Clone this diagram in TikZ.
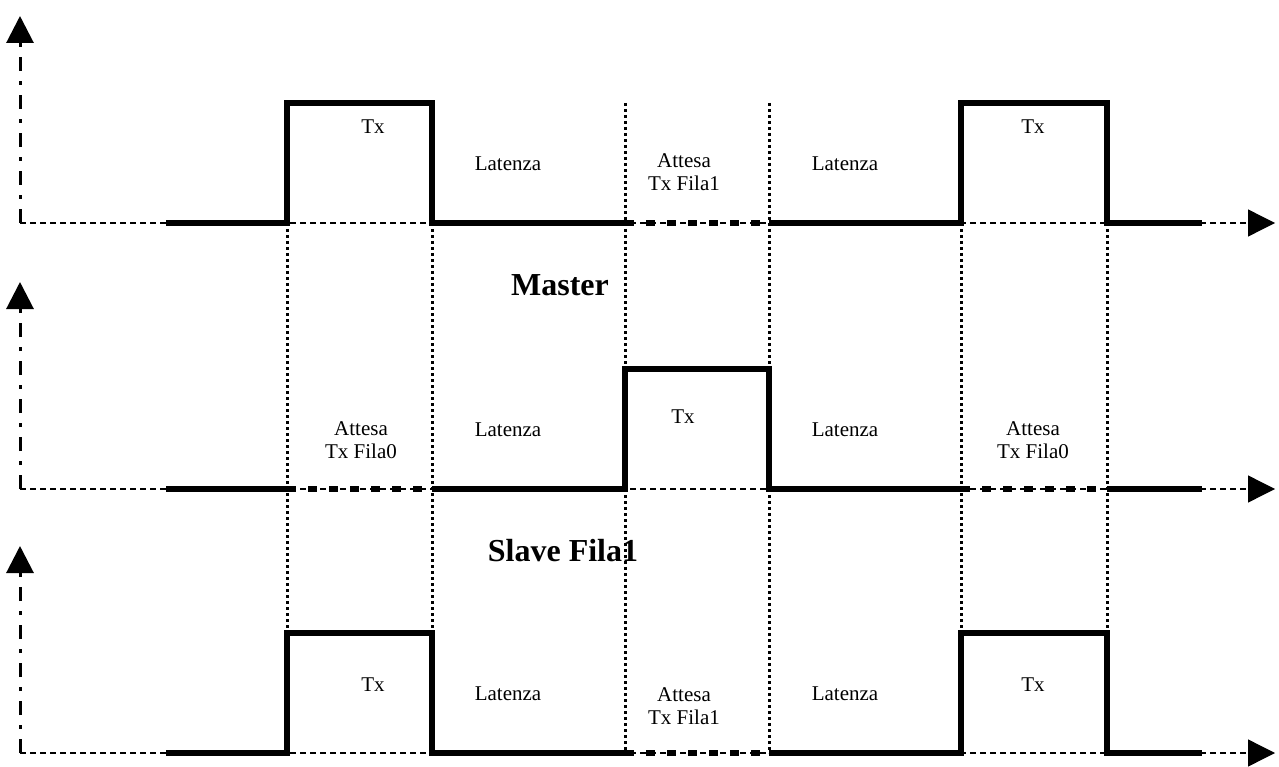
\documentclass[tikz,border=0pt]{standalone}
\usepackage{fontspec}
\setmainfont{Liberation Serif}
\usetikzlibrary{arrows.meta}
\begin{document}
\begin{tikzpicture}[x=1pt,y=-1pt,
  sig/.style={line width=6pt, line join=miter},
  waitseg/.style={line width=6pt, dash pattern=on 9pt off 12pt},
  guide/.style={line width=3pt, dash pattern=on 3pt off 3pt},
  haxis/.style={line width=1.3pt, dash pattern=on 6pt off 4pt, -{Triangle[length=27pt,width=27pt]}},
  vaxis/.style={line width=3pt, dash pattern=on 14pt off 10pt on 4pt off 10pt, -{Triangle[length=27pt,width=27pt,sep=9pt]}},
  lbl/.style={font=\fontsize{21}{23}\selectfont, align=center, inner sep=0pt},
  ttl/.style={font=\bfseries\fontsize{32}{36}\selectfont, inner sep=0pt}]
\useasboundingbox (0,0) rectangle (1279,767);

% axes
\foreach \b/\n in {223/a, 489/b, 753/c}{
  \coordinate (o\n) at (20,\b);
  \coordinate (x\n) at (1275,\b);
  \coordinate (y\n) at (20,\b-216);
  \draw[haxis] (o\n) -- (x\n);
  \draw[vaxis] (o\n) -- (y\n);
}

% vertical guides
\foreach \x in {287,432,961,1107}{
  \draw[guide] (\x,223) -- (\x,633);
}
\foreach \x in {625,769}{
  \draw[guide] (\x,103) -- (\x,369);
  \draw[guide] (\x,489) -- (\x,753);
}

% Master
\draw[sig] (166,223) -- (287,223) -- (287,103) -- (432,103) -- (432,223) -- (625,223);
\draw[waitseg] (625,223) -- (769,223);
\draw[sig] (769,223) -- (961,223) -- (961,103) -- (1107,103) -- (1107,223) -- (1202,223);

% Slave Fila1
\draw[sig] (166,489) -- (287,489);
\draw[waitseg] (287,489) -- (432,489);
\draw[sig] (432,489) -- (625,489) -- (625,369) -- (769,369) -- (769,489) -- (961,489);
\draw[waitseg] (961,489) -- (1107,489);
\draw[sig] (1107,489) -- (1202,489);

% bottom
\draw[sig] (166,753) -- (287,753) -- (287,633) -- (432,633) -- (432,753) -- (625,753);
\draw[waitseg] (625,753) -- (769,753);
\draw[sig] (769,753) -- (961,753) -- (961,633) -- (1107,633) -- (1107,753) -- (1202,753);

% labels top
\node[lbl] (t1) at (373,127) {Tx};
\node[lbl] (t2) at (508,164) {Latenza};
\node[lbl] (t3) at (684,172) {Attesa\\Tx Fila1};
\node[lbl] (t4) at (845,164) {Latenza};
\node[lbl] (t5) at (1033,127) {Tx};
\node[ttl] (m) at (560,285) {Master};

% labels middle
\node[lbl] (s1) at (361,440) {Attesa\\Tx Fila0};
\node[lbl] (s2) at (508,430) {Latenza};
\node[lbl] (s3) at (683,417) {Tx};
\node[lbl] (s4) at (845,430) {Latenza};
\node[lbl] (s5) at (1033,440) {Attesa\\Tx Fila0};
\node[ttl] (sl) at (563,551) {Slave Fila1};

% labels bottom
\node[lbl] (b1) at (373,685) {Tx};
\node[lbl] (b2) at (508,694) {Latenza};
\node[lbl] (b3) at (684,706) {Attesa\\Tx Fila1};
\node[lbl] (b4) at (845,694) {Latenza};
\node[lbl] (b5) at (1033,685) {Tx};
\end{tikzpicture}
\end{document}
